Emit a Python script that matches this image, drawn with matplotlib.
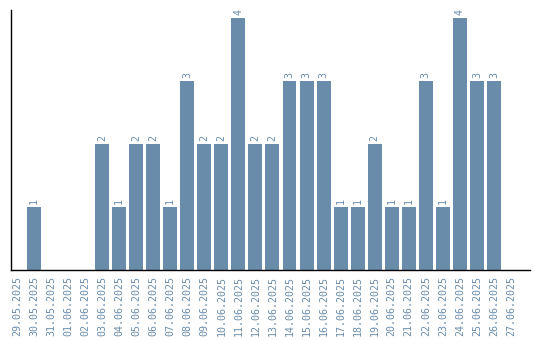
import matplotlib
matplotlib.use('Agg')
import matplotlib.pyplot as plt

dates = ['29.05.2025', '30.05.2025', '31.05.2025', '01.06.2025', '02.06.2025',
         '03.06.2025', '04.06.2025', '05.06.2025', '06.06.2025', '07.06.2025',
         '08.06.2025', '09.06.2025', '10.06.2025', '11.06.2025', '12.06.2025',
         '13.06.2025', '14.06.2025', '15.06.2025', '16.06.2025', '17.06.2025',
         '18.06.2025', '19.06.2025', '20.06.2025', '21.06.2025', '22.06.2025',
         '23.06.2025', '24.06.2025', '25.06.2025', '26.06.2025', '27.06.2025']
counts = [0, 1, 0, 0, 0, 2, 1, 2, 2, 1, 3, 2, 2, 4, 2, 2, 3, 3, 3, 1,
          1, 2, 1, 1, 3, 1, 4, 3, 3, 0]

color = '#6a8cab'
fig = plt.figure(figsize=(5.4, 3.4), dpi=100, facecolor='white')
ax = fig.add_axes([11/540, 70/340, 519/540, 260/340])

x = list(range(len(dates)))
ax.bar(x, counts, width=0.82, color=color)
for i, v in enumerate(counts):
    if v > 0:
        ax.text(i, v + 0.05, str(v), rotation=90, ha='center', va='bottom',
                color=color, family='DejaVu Sans Mono', fontsize=7.2)

ax.set_xlim(-0.35, 30.12)
ax.set_ylim(0, 4.13)
ax.set_xticks(x)
ax.set_xticklabels(dates, rotation=90, family='DejaVu Sans Mono', fontsize=7.2, color=color)
ax.tick_params(axis='x', length=0, pad=4)
ax.set_yticks([])
ax.spines['top'].set_visible(False)
ax.spines['right'].set_visible(False)
ax.spines['left'].set_linewidth(1)
ax.spines['bottom'].set_linewidth(1)

fig.savefig('out.png', dpi=100, facecolor='white')
